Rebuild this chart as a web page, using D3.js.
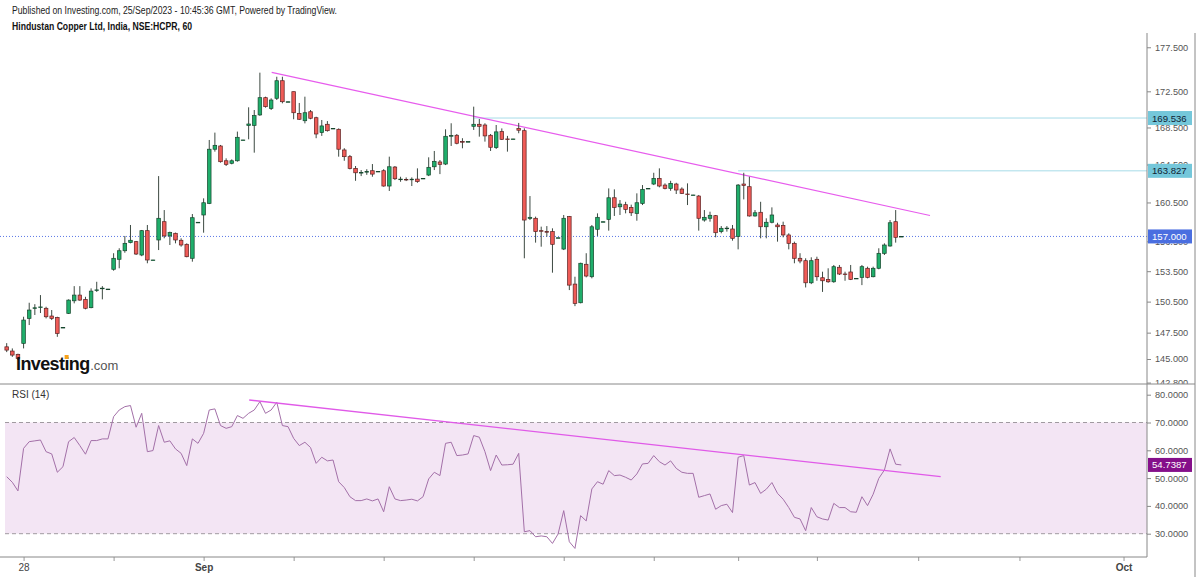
<!DOCTYPE html>
<html>
<head>
<script src="https://d3js.org/d3.v7.min.js"></script>
<style>
  body { margin: 0; background: #fff; }
  svg { font-family: "Liberation Sans", Arial, sans-serif; }
</style>
</head>
<body>
<svg id="chart" width="1200" height="577"></svg>
<script>
// hourly candles, Hindustan Copper (NSE:HCPR)
var opens = [146.15,145.75,145.44,146.48,148.87,149.85,149.95,149.85,149.1,148.97,
  147.95,149.36,150.58,151.14,150.72,149.91,151.6,151.8,151.73,153.69,
  154.69,155.55,156.37,156.47,155.12,157.59,154.62,156.64,158.51,157.05,
  157.32,156.61,156.2,154.79,158.45,159.2,160.4,166.14,166.49,164.9,
  164.63,164.9,167.14,168.73,168.73,169.88,171.79,170.6,171.72,173.69,
  171.34,172.46,170.05,169.24,170.23,169.57,167.94,168.85,168.4,168.3,
  166.06,165.34,164.09,163.62,163.73,163.84,163.77,163.84,162.22,164.23,
  162.92,162.92,162.92,162.95,163.03,163.38,164.26,164.77,164.55,167.58,
  167.65,166.96,166.96,168.63,168.85,168.77,167.65,166.31,168.05,167.25,
  167.25,168.4,168.15,158.85,158.86,157.59,157.49,157.49,156.87,155.72,
  159.03,152.22,150.39,154.19,152.95,157.73,158.51,158.75,160.99,160.05,
  160.27,159.99,159.37,160.4,161.97,162.43,163.03,162.32,161.97,162.43,
  161.9,161.38,161.28,161.17,158.68,158.86,159.13,157.49,157.83,157.76,
  157.0,162.43,162.15,159.1,159.48,157.99,158.45,158.17,158.13,157.15,
  156.3,154.79,154.55,152.35,154.69,152.85,152.69,152.45,153.89,153.22,
  153.42,152.79,152.89,153.79,152.95,153.79,155.29,156.03,158.51,157.0];
var highs = [146.5,146.0,145.5,149.03,150.39,150.25,151.14,150.0,149.68,149.03,
  148.0,150.72,152.02,152.02,150.97,151.8,152.45,152.02,151.75,155.3,
  155.8,157.05,158.17,156.54,157.66,158.17,154.64,163.27,159.71,157.49,
  157.39,156.81,156.3,159.3,158.47,160.93,167.14,167.94,166.6,165.16,
  165.05,168.05,167.16,170.72,170.42,174.6,171.9,171.72,174.14,174.14,
  171.36,172.46,171.2,171.9,170.42,169.68,169.32,169.2,168.42,168.4,
  166.25,165.52,164.34,163.91,164.0,164.55,163.79,164.0,165.34,164.34,
  163.2,163.13,163.13,164.09,163.05,165.27,165.95,164.98,168.3,168.96,
  167.79,167.33,166.98,170.79,169.43,168.96,167.79,168.77,168.4,167.58,
  167.27,169.0,168.41,161.17,159.03,158.0,158.06,157.83,156.89,159.2,
  159.1,152.95,154.35,155.3,158.17,159.37,158.53,161.97,161.87,160.75,
  160.57,160.27,161.45,162.32,161.99,163.62,164.09,162.5,162.77,162.56,
  162.08,162.5,161.3,161.28,159.71,159.54,159.2,158.06,158.06,158.17,
  162.43,163.62,163.2,159.71,160.57,158.86,159.99,158.4,158.51,157.32,
  156.47,155.3,154.79,154.89,154.95,153.45,153.79,154.12,154.12,153.45,
  154.12,152.81,154.12,153.95,153.95,155.8,156.3,158.68,159.71,157.02];
var lows = [145.65,145.2,144.9,146.0,148.23,149.2,149.39,148.87,148.71,147.1,
  147.95,149.3,150.33,150.58,149.75,149.85,151.45,150.72,151.71,153.55,
  153.79,155.35,156.3,155.12,155.0,154.29,154.6,155.62,156.81,156.13,
  156.3,155.96,154.89,154.45,158.43,157.38,160.33,165.88,164.7,164.34,
  164.52,164.8,167.12,167.21,165.77,169.77,170.68,170.42,171.53,171.16,
  171.32,169.4,169.32,168.95,169.4,167.33,167.58,168.05,168.38,165.34,
  164.9,163.98,162.77,163.27,163.4,163.2,163.75,162.15,161.7,162.85,
  162.67,162.74,162.22,162.56,163.01,163.27,163.91,163.48,164.44,166.49,
  166.67,166.24,166.94,168.23,167.5,166.96,165.95,166.17,167.14,165.88,
  167.23,167.87,154.79,158.68,156.37,155.96,156.98,153.35,156.85,155.62,
  151.63,150.06,150.33,152.89,152.79,157.05,158.49,157.59,159.1,159.2,
  159.37,159.1,158.61,160.23,161.95,162.32,162.08,161.87,161.72,161.38,
  161.38,160.23,161.26,157.59,158.51,158.51,156.91,157.32,157.49,156.57,
  155.69,160.82,159.03,159.03,156.81,156.81,158.34,156.47,156.91,155.69,
  154.29,154.29,151.89,152.22,152.55,151.45,152.35,152.35,153.12,152.55,
  152.62,152.77,152.12,152.79,152.89,153.69,155.12,155.96,156.37,156.98];
var closes = [145.84,145.37,145.06,148.71,149.68,149.9,149.98,149.03,148.87,147.43,
  148.0,150.65,151.14,150.65,149.85,151.53,151.65,151.82,151.73,154.79,
  155.55,156.3,156.61,155.22,157.59,154.62,154.62,158.86,157.05,157.39,
  156.64,156.13,154.95,158.92,158.45,160.47,166.14,166.56,164.8,164.52,
  164.9,167.43,167.14,168.88,169.8,171.79,170.79,171.53,173.69,171.34,
  171.34,170.12,169.4,170.12,169.51,167.79,168.67,168.15,168.4,166.14,
  165.34,164.09,163.62,163.65,163.75,163.48,163.77,162.22,164.26,162.99,
  162.95,162.9,162.94,162.7,163.03,164.2,164.84,164.52,167.54,167.61,
  166.78,166.94,166.96,168.85,168.63,167.58,166.35,168.02,167.21,167.23,
  167.25,168.2,158.68,158.96,157.49,157.55,157.47,156.2,156.87,158.86,
  152.12,150.33,154.29,153.02,157.99,158.96,158.51,160.99,159.99,160.33,
  159.78,159.43,160.47,161.87,161.97,163.03,162.22,161.97,162.5,161.8,
  161.45,161.36,161.28,158.86,158.96,159.17,157.38,157.83,157.85,156.81,
  162.32,162.29,159.1,159.43,157.99,158.45,159.2,157.99,157.15,156.3,
  154.79,154.52,152.35,154.55,152.95,152.55,152.45,153.95,153.22,153.2,
  152.69,152.79,153.95,152.89,153.79,155.29,156.13,158.4,156.91,157.0];
var rsi = [50.5,48.5,45.4,60.7,63.1,63.4,63.7,59.5,58.7,52.1,
  54.1,63.1,64.6,61.7,58.6,63.5,63.5,64.1,64.1,72.1,
  74.5,75.7,76.1,68.3,73.3,59.5,59.9,68.9,62.9,63.4,
  60.5,58.9,54.5,64.1,62.5,66.1,74.5,74.9,68.9,67.9,
  68.5,72.5,71.5,73.3,74.5,77.5,73.3,74.5,77.3,68.9,
  68.5,64.3,61.7,62.9,61.0,55.3,57.5,56.2,56.5,48.7,
  46.6,43.3,41.9,41.9,42.5,41.8,42.5,37.9,46.9,42.5,
  41.9,42.1,42.4,41.8,43.3,49.7,52.1,50.9,62.5,62.9,
  58.1,58.3,58.7,65.3,64.7,59.5,52.7,58.3,54.7,54.8,
  55.0,58.9,30.7,31.1,28.9,29.2,28.9,26.5,29.9,38.3,
  27.1,24.7,36.5,34.6,46.1,48.7,47.8,52.7,50.9,51.1,
  50.3,49.3,51.5,55.1,55.3,58.1,55.9,54.7,56.2,53.5,
  52.1,51.7,51.7,43.1,43.7,44.3,38.8,40.1,40.6,37.6,
  57.5,58.1,47.5,48.4,44.5,46.0,48.4,44.5,42.4,39.4,
  35.9,35.3,31.1,39.4,36.1,35.3,34.9,40.9,39.4,39.4,
  37.9,37.7,43.3,40.1,44.2,49.9,52.9,60.5,55.0,54.7387];

var priceTicks = [177.5,172.5,168.5,164.5,160.5,156.5,153.5,150.5,147.5,145.0,142.8];
var rsiTicks = [80,70,60,50,40,30];
var dateTickIdx = [4,20,36,52,68,84,100,116,131,145,163,181,199.5];
var dateTickLabels = ["28","","Sep","","","","","","","","","","Oct"];
var levels = [169.536, 163.827];
var levelFrom = [84, 131];
var lastPrice = 157.000, lastRsi = 54.7387;
var priceTrend = [[48.1,174.64],[165.1,159.15]];
var rsiTrend = [[44.1,78.1],[167,50.5]];

var svg = d3.select("#chart");
var axisX = 1147, paneTop = 33, paneSplit = 384, paneBottom = 557;

var x = d3.scaleLinear().domain([1,160]).range([6.7,901.3]);
var yP = d3.scaleLog().domain([142.76,179.5]).range([383,30]);
var yR = d3.scaleLinear().domain([30,80]).range([533.7,394.7]);

var defs = svg.append("defs");
defs.append("clipPath").attr("id","clipP").append("rect")
  .attr("x",0).attr("y",paneTop).attr("width",axisX).attr("height",paneSplit-paneTop);
defs.append("clipPath").attr("id","clipR").append("rect")
  .attr("x",0).attr("y",paneSplit).attr("width",axisX).attr("height",paneBottom-paneSplit);
defs.append("clipPath").attr("id","clipAx").append("rect")
  .attr("x",axisX).attr("y",paneTop).attr("width",60).attr("height",paneSplit-paneTop);

// header
svg.append("text").attr("x",12).attr("y",14).attr("font-size",10).attr("fill","#222")
  .attr("textLength",325).attr("lengthAdjust","spacingAndGlyphs")
  .text("Published on Investing.com, 25/Sep/2023 - 10:45:36 GMT, Powered by TradingView.");
svg.append("text").attr("x",12).attr("y",30).attr("font-size",10).attr("font-weight","bold").attr("fill","#111")
  .attr("textLength",180).attr("lengthAdjust","spacingAndGlyphs")
  .text("Hindustan Copper Ltd, India, NSE:HCPR, 60");

// ---- price pane
var gP = svg.append("g").attr("clip-path","url(#clipP)");

gP.append("line").attr("x1",0).attr("x2",axisX)
  .attr("y1",yP(lastPrice)).attr("y2",yP(lastPrice))
  .attr("stroke","#5b78e6").attr("stroke-width",1).attr("stroke-dasharray","1,2");

levels.forEach(function(v,i){
  gP.append("line").attr("x1",x(levelFrom[i])).attr("x2",axisX)
    .attr("y1",yP(v)).attr("y2",yP(v))
    .attr("stroke","#a6dbe8").attr("stroke-width",1);
});

gP.append("line")
  .attr("x1",x(priceTrend[0][0])).attr("y1",yP(priceTrend[0][1]))
  .attr("x2",x(priceTrend[1][0])).attr("y2",yP(priceTrend[1][1]))
  .attr("stroke","#e75ced").attr("stroke-width",1.2);

var idx = d3.range(opens.length);
var candles = gP.selectAll("g.c").data(idx).enter().append("g").attr("class","c");
candles.append("line")
  .attr("x1",function(i){return x(i+1);}).attr("x2",function(i){return x(i+1);})
  .attr("y1",function(i){return yP(highs[i]);}).attr("y2",function(i){return yP(lows[i]);})
  .attr("stroke","#3d4a42").attr("stroke-width",1);
candles.append("rect")
  .attr("x",function(i){return x(i+1)-1.8;})
  .attr("width",3.6)
  .attr("y",function(i){return yP(Math.max(opens[i],closes[i]));})
  .attr("height",function(i){return Math.max(0.6, yP(Math.min(opens[i],closes[i])) - yP(Math.max(opens[i],closes[i])));})
  .attr("fill",function(i){return closes[i] >= opens[i] ? "#1fae6b" : "#ef5b57";})
  .attr("stroke",function(i){return closes[i] >= opens[i] ? "#16452c" : "#5b2020";})
  .attr("stroke-width",0.7);

// logo
var logo = svg.append("text").attr("x",16).attr("y",370)
  .attr("font-size",18).attr("font-weight","bold").attr("fill","#111").attr("letter-spacing",-0.6)
  .text("Investing");
var lw = logo.node().getComputedTextLength();
var ip = logo.node().getExtentOfChar(6);
svg.append("rect").attr("x",ip.x+ip.width/2-2).attr("y",ip.y+1).attr("width",4).attr("height",4).attr("fill","#f7a11a");
svg.append("text").attr("x",16+lw+0.5).attr("y",370).attr("font-size",13).attr("fill","#555").text(".com");

// price axis (clipped to the price pane)
var axWrap = svg.append("g").attr("clip-path","url(#clipAx)");
var axP = axWrap.append("g").attr("transform","translate("+axisX+",0)")
  .call(d3.axisRight(yP).tickValues(priceTicks).tickFormat(d3.format(".3f")).tickSize(4).tickPadding(4));
axP.select(".domain").remove();
axP.selectAll("line").attr("stroke","#888");
axP.selectAll("text").attr("fill","#555").attr("font-size",9.2).attr("font-family","Liberation Sans, Arial, sans-serif");

function tag(yv, label, bg, fg){
  svg.append("rect").attr("x",axisX+1).attr("y",yv-7).attr("width",44).attr("height",14).attr("fill",bg);
  svg.append("text").attr("x",axisX+5).attr("y",yv+3.5).attr("font-size",9.6).attr("fill",fg).text(label);
}
levels.forEach(function(v){ tag(yP(v), d3.format(".3f")(v), "#74c7da", "#123"); });
tag(yP(lastPrice), d3.format(".3f")(lastPrice), "#4a6ee0", "#fff");

// ---- RSI pane
var gR = svg.append("g").attr("clip-path","url(#clipR)");
gR.append("rect").attr("x",5).attr("width",axisX-5)
  .attr("y",yR(70)).attr("height",yR(30)-yR(70)).attr("fill","#f3e5f4");
[70,30].forEach(function(v){
  gR.append("line").attr("x1",5).attr("x2",axisX).attr("y1",yR(v)).attr("y2",yR(v))
    .attr("stroke","#a09aa0").attr("stroke-width",1).attr("stroke-dasharray","4,3");
});
gR.append("path").datum(rsi)
  .attr("d",d3.line().x(function(d,i){return x(i+1);}).y(function(d){return yR(d);}))
  .attr("fill","none").attr("stroke","#a370a8").attr("stroke-width",1);
gR.append("line")
  .attr("x1",x(rsiTrend[0][0])).attr("y1",yR(rsiTrend[0][1]))
  .attr("x2",x(rsiTrend[1][0])).attr("y2",yR(rsiTrend[1][1]))
  .attr("stroke","#e05ae8").attr("stroke-width",1.3);
svg.append("text").attr("x",12).attr("y",398).attr("font-size",10).attr("fill","#333").text("RSI (14)");

var axR = svg.append("g").attr("transform","translate("+axisX+",0)")
  .call(d3.axisRight(yR).tickValues(rsiTicks).tickFormat(d3.format(".4f")).tickSize(4).tickPadding(4));
axR.select(".domain").remove();
axR.selectAll("line").attr("stroke","#888");
axR.selectAll("text").attr("fill","#555").attr("font-size",9.2).attr("font-family","Liberation Sans, Arial, sans-serif");
tag(yR(lastRsi), d3.format(".4f")(lastRsi), "#850f8a", "#fff");

// ---- date axis
var axD = svg.append("g").attr("transform","translate(0,"+paneBottom+")")
  .call(d3.axisBottom(x).tickValues(dateTickIdx).tickFormat(function(d,i){return dateTickLabels[i];}).tickSize(4).tickPadding(3));
axD.select(".domain").remove();
axD.selectAll("line").attr("stroke","#999");
axD.selectAll("text").attr("fill","#444").attr("font-size",10).attr("font-family","Liberation Sans, Arial, sans-serif")
  .attr("font-weight",function(d,i){return dateTickLabels[i]==="28" ? "normal" : "bold";});

// frame lines
svg.append("line").attr("x1",axisX).attr("x2",axisX).attr("y1",paneTop).attr("y2",paneBottom).attr("stroke","#888");
svg.append("line").attr("x1",0).attr("x2",1195).attr("y1",paneSplit).attr("y2",paneSplit).attr("stroke","#888");
svg.append("line").attr("x1",0).attr("x2",axisX).attr("y1",paneBottom).attr("y2",paneBottom).attr("stroke","#888");
svg.append("line").attr("x1",1195).attr("x2",1195).attr("y1",paneTop).attr("y2",577).attr("stroke","#888");
</script>
</body>
</html>
